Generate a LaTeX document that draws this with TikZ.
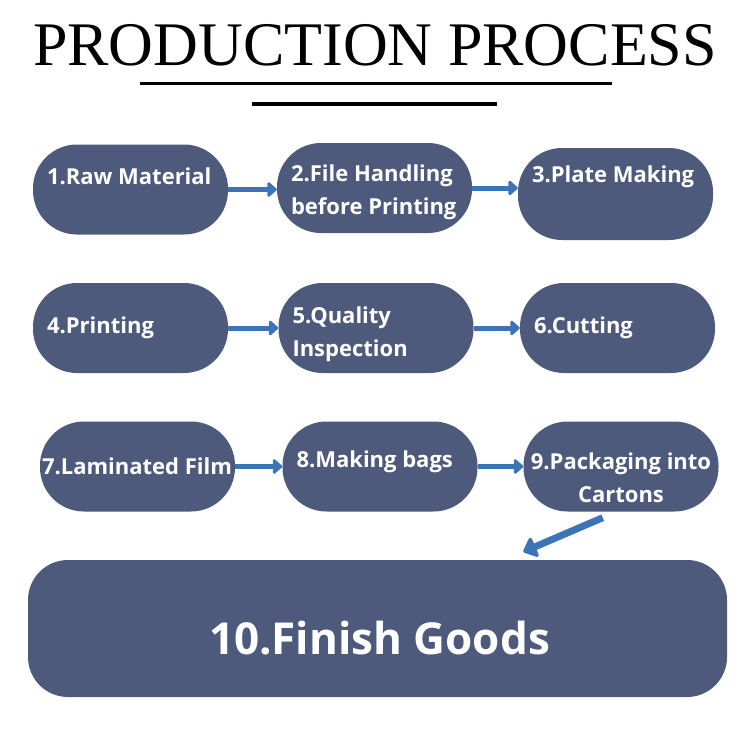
\documentclass[tikz,border=0pt]{standalone}
\usepackage{fontspec}
\setmainfont{Liberation Serif}
\newfontfamily\boxfont{Open Sans}
\usetikzlibrary{arrows.meta,calc}
\definecolor{slate}{HTML}{4E5A7B}
\definecolor{flowblue}{HTML}{3D74B6}

\begin{document}
\begin{tikzpicture}[x=1pt,y=-1pt,
  stepbox/.style={fill=slate, rounded corners=44pt, minimum width=195pt,
    minimum height=90pt, inner sep=0pt},
  steptext/.style={text=white, font=\boxfont\bfseries\fontsize{22}{33}\selectfont,
    align=left, inner sep=0pt, anchor=west, xshift=14pt},
  flow/.style={line width=5pt, flowblue, -{Triangle[length=10pt,width=17pt,round]}}]
  \useasboundingbox (0,0) rectangle (750,737);

  % title and rules
  \node[anchor=base, font=\fontsize{62}{62}\selectfont] (title) at (375,65) {PRODUCTION PROCESS};
  \draw[line width=3pt] (140,83) -- (612,83);
  \draw[line width=4pt] (252,104) -- (497,104);

  % steps
  \node[stepbox, label={[steptext,yshift=13.5pt]west:1.Raw Material}] (s1) at (130.5,189.5) {};
  \node[stepbox, label={[steptext,yshift=-4.5pt]west:2.File Handling\\before Printing}] (s2) at (374.5,188) {};
  \node[stepbox, minimum height=92pt, label={[steptext,yshift=17pt]west:3.Plate Making}] (s3) at (615.5,194) {};

  \node[stepbox, label={[steptext]west:4.Printing}] (s4) at (130.5,328) {};
  \node[stepbox, label={[steptext,yshift=-6.5pt]west:5.Quality\\Inspection}] (s5) at (376,328) {};
  \node[stepbox, label={[steptext]west:6.Cutting}] (s6) at (617.5,328) {};

  \node[stepbox, label={[steptext,xshift=-12pt]west:7.Laminated Film}] (s7) at (137.5,466.5) {};
  \node[stepbox, label={[steptext,yshift=4.5pt]west:8.Making bags}] (s8) at (380,466.5) {};
  \node[stepbox, label={[steptext,anchor=center,xshift=-14pt,align=center,yshift=-11.5pt]center:9.Packaging into\\Cartons}] (s9) at (621,466.5) {};

  \node[stepbox, minimum width=699pt, minimum height=137pt, rounded corners=40pt,
    label={[steptext,anchor=center,xshift=-12pt,align=center,yshift=-9.5pt,
      font=\boxfont\bfseries\fontsize{44}{44}\selectfont]center:10.Finish Goods}] (s10) at (377.5,628.5) {};

  % arrows
  \draw[flow] (s1.east) -- (s1.east -| s2.west);
  \draw[flow] (s2.east) -- (s2.east -| s3.west);
  \draw[flow] (s4.east) -- (s5.west);
  \draw[flow] (s5.east) -- (s6.west);
  \draw[flow] (s7.east) -- (s8.west);
  \draw[flow] (s8.east) -- (s9.west);
  \draw[flow, line width=7pt, -{Triangle[length=14pt,width=24pt,round]}]
    ($(s9.248)+(0,6)$) -- ($(s10.north -| s9.west)+(0,-8)$);
\end{tikzpicture}
\end{document}
